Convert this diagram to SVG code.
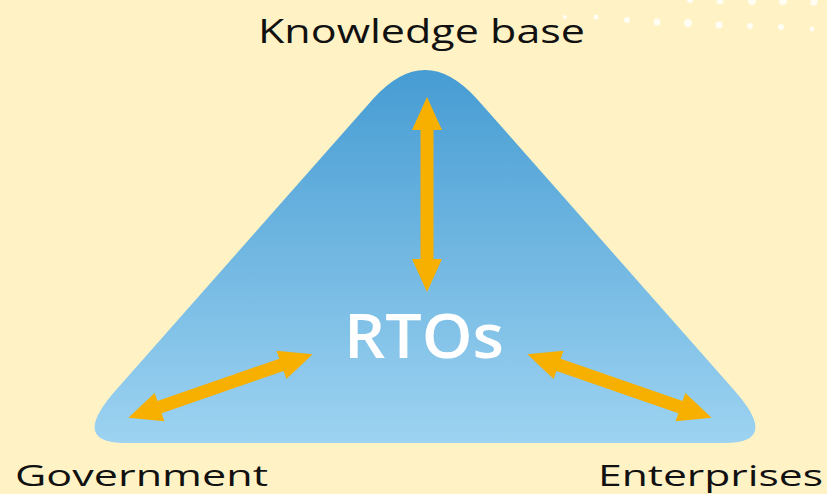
<svg xmlns="http://www.w3.org/2000/svg" width="827" height="494" viewBox="0 0 827 494">
<defs>
<linearGradient id="tri" x1="0" y1="0" x2="0" y2="1">
<stop offset="0" stop-color="#469CD3"/>
<stop offset="1" stop-color="#9DD3F1"/>
</linearGradient>
<polygon id="dbl" points="-97.5,0 -64.5,-15 -64.5,-6.5 64.5,-6.5 64.5,-15 97.5,0 64.5,15 64.5,6.5 -64.5,6.5 -64.5,15"/>
</defs>
<style>
.lbl{font-family:"Open Sans","Liberation Sans",sans-serif;fill:#111;}
.arrow{fill:#F7B000;}
.dot{fill:#fff;opacity:0.8;}
</style>
<rect width="827" height="494" fill="#FFF3C5"/>
<g id="dots">
<circle class="dot" cx="565" cy="17" r="2"/>
<circle class="dot" cx="596" cy="17" r="2.5"/>
<circle class="dot" cx="627" cy="20" r="3"/>
<circle class="dot" cx="657" cy="22" r="3.5"/>
<circle class="dot" cx="688" cy="23" r="4"/>
<circle class="dot" cx="719" cy="25" r="3.5"/>
<circle class="dot" cx="750" cy="26" r="3"/>
<circle class="dot" cx="781" cy="27" r="3"/>
<circle class="dot" cx="812" cy="29" r="2.5"/>
<circle class="dot" cx="690" cy="0" r="3"/>
<circle class="dot" cx="720" cy="1" r="3.5"/>
<circle class="dot" cx="752" cy="1" r="4"/>
<circle class="dot" cx="783" cy="1" r="4"/>
<circle class="dot" cx="814" cy="2" r="3.5"/>
</g>
<g id="triangle">
<path d="M373,99 Q425,41 477,99 L734,390 Q781,443 725,443 L125,443 Q69,443 116,390 Z" fill="url(#tri)"/>
<text x="424" y="358" text-anchor="middle" font-family="'Open Sans','Liberation Sans',sans-serif" font-size="62" font-weight="600" fill="#fff" textLength="160" lengthAdjust="spacingAndGlyphs">RTOs</text>
</g>
<g id="connectors">
<use href="#dbl" class="arrow" transform="translate(427,194.5) rotate(90)"/>
<use href="#dbl" class="arrow" transform="translate(220.5,386) rotate(-19.08)"/>
<use href="#dbl" class="arrow" transform="translate(619.5,386) rotate(19.08)"/>
</g>
<g id="knowledge">
<text class="lbl" x="258" y="43" font-size="33" textLength="327" lengthAdjust="spacingAndGlyphs">Knowledge base</text>
</g>
<g id="government">
<text class="lbl" x="15" y="486" font-size="30" textLength="253" lengthAdjust="spacingAndGlyphs">Government</text>
</g>
<g id="enterprises">
<text class="lbl" x="598" y="486" font-size="30" textLength="225" lengthAdjust="spacingAndGlyphs">Enterprises</text>
</g>
</svg>
